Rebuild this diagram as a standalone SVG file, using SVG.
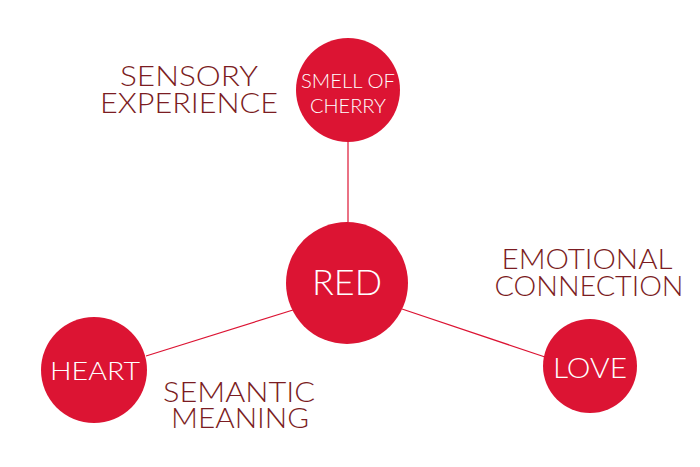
<svg xmlns="http://www.w3.org/2000/svg" width="700" height="467" viewBox="0 0 700 467">
<style>
.node{fill:#dc1433}
.in{fill:#ffffff;font-family:Lato,"Open Sans","Liberation Sans",sans-serif;font-weight:300;text-anchor:middle}
.lab{fill:#7b1c22;font-family:Lato,"Open Sans","Liberation Sans",sans-serif;font-weight:300;text-anchor:middle;font-size:28px}
.edge{stroke:#dc1433;stroke-width:1.2;fill:none}
</style>
<rect width="700" height="467" fill="#ffffff"/>
<g id="connectors">
<line class="edge" x1="348" y1="142" x2="348" y2="222"/>
<line class="edge" x1="146" y1="356" x2="293" y2="310"/>
<line class="edge" x1="402" y1="309" x2="545" y2="357"/>
</g>
<g id="node-red">
<circle class="node" cx="347" cy="283" r="61"/>
<text class="in" x="347" y="295" font-size="35" textLength="70" lengthAdjust="spacingAndGlyphs">RED</text>
</g>
<g id="node-cherry">
<circle class="node" cx="348" cy="90" r="52"/>
<text class="in" x="348" y="88" font-size="19" textLength="94" lengthAdjust="spacingAndGlyphs">SMELL OF</text>
<text class="in" x="348" y="113" font-size="19" textLength="76" lengthAdjust="spacingAndGlyphs">CHERRY</text>
</g>
<g id="node-heart">
<circle class="node" cx="94" cy="370" r="53"/>
<text class="in" x="95" y="380" font-size="25" textLength="90" lengthAdjust="spacingAndGlyphs">HEART</text>
</g>
<g id="node-love">
<circle class="node" cx="590" cy="366" r="47"/>
<text class="in" x="590" y="378" font-size="27" textLength="74" lengthAdjust="spacingAndGlyphs">LOVE</text>
</g>
<g id="label-sensory">
<text class="lab" x="189" y="86" textLength="138" lengthAdjust="spacingAndGlyphs">SENSORY</text>
<text class="lab" x="189" y="113" textLength="178" lengthAdjust="spacingAndGlyphs">EXPERIENCE</text>
</g>
<g id="label-semantic">
<text class="lab" x="239" y="402" textLength="152" lengthAdjust="spacingAndGlyphs">SEMANTIC</text>
<text class="lab" x="240" y="428" textLength="138" lengthAdjust="spacingAndGlyphs">MEANING</text>
</g>
<g id="label-emotional">
<text class="lab" x="587" y="269" textLength="171" lengthAdjust="spacingAndGlyphs">EMOTIONAL</text>
<text class="lab" x="589" y="296" textLength="189" lengthAdjust="spacingAndGlyphs">CONNECTION</text>
</g>
</svg>
